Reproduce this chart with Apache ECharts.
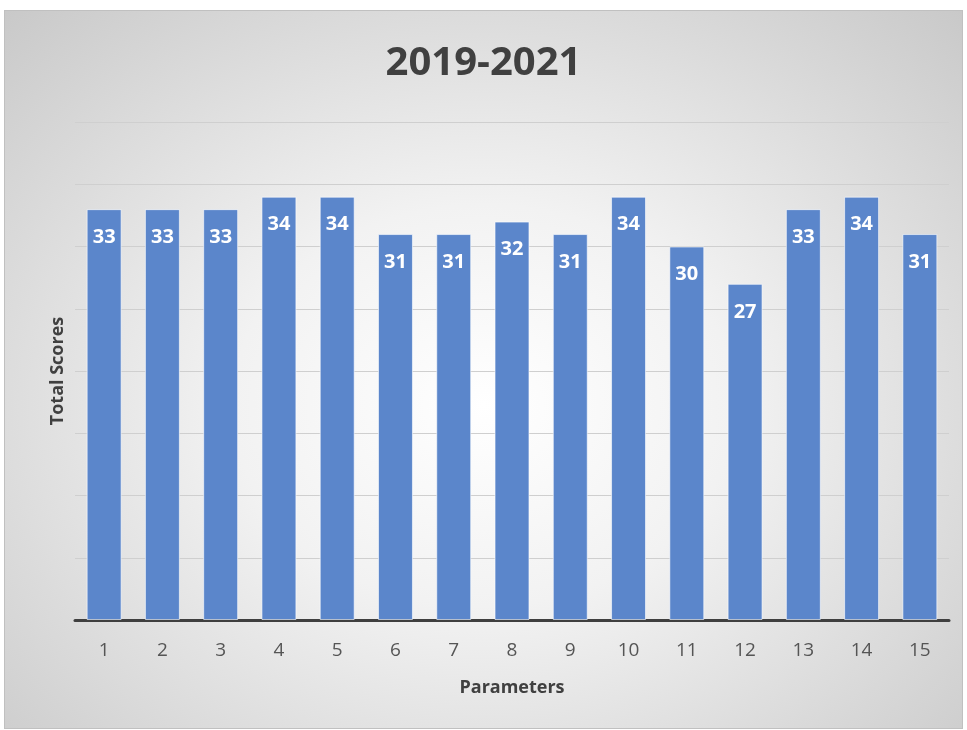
<!DOCTYPE html>
<html>
<head>
<meta charset="utf-8">
<script src="https://cdn.jsdelivr.net/npm/echarts@6/dist/echarts.min.js"></script>
<style>
  html, body { margin: 0; padding: 0; background: #ffffff; }
  .frame {
    position: absolute;
    left: 4px;
    top: 10px;
    width: 957px;
    height: 717px;
    border: 1px solid #c0c0c0;
    background: radial-gradient(ellipse 75% 80% at 50% 55%, #ffffff 0%, #f2f2f2 35%, #c6c6c6 100%);
  }
  #chart {
    position: absolute;
    left: 0;
    top: 0;
    width: 967px;
    height: 730px;
  }
</style>
</head>
<body>
<div class="frame"></div>
<div id="chart"></div>
<script>
// 参数编号
const categories = ["1", "2", "3", "4", "5", "6", "7", "8", "9", "10", "11", "12", "13", "14", "15"];
// 总分
const scores = [33, 33, 33, 34, 34, 31, 31, 32, 31, 34, 30, 27, 33, 34, 31];
// y 轴刻度 (标签不显示)
const yMin = 0;
const yMax = 40;
const yStep = 5;

const font = "'Open Sans', 'Liberation Sans', sans-serif";

let myChart = echarts.init(document.getElementById("chart"));

let option = {
  backgroundColor: "transparent",
  title: {
    text: "2019-2021",
    left: "center",
    top: 39,
    textStyle: {
      color: "#404040",
      fontSize: 40,
      fontWeight: "bold",
      fontFamily: font,
    },
  },
  grid: {
    left: 75,
    right: 18,
    top: 122,
    bottom: 110,
  },
  xAxis: {
    type: "category",
    data: categories,
    name: "Parameters",
    nameLocation: "middle",
    nameGap: 59,
    nameTextStyle: {
      color: "#404040",
      fontSize: 18,
      fontWeight: "bold",
      fontFamily: font,
    },
    axisTick: { show: false },
    axisLine: {
      lineStyle: { color: "#3f3f3f", width: 3 },
    },
    axisLabel: {
      color: "#555555",
      fontSize: 19,
      margin: 21,
      fontFamily: font,
    },
  },
  yAxis: {
    type: "value",
    min: yMin,
    max: yMax,
    interval: yStep,
    name: "Total Scores",
    nameLocation: "middle",
    nameGap: 8,
    nameTextStyle: {
      color: "#404040",
      fontSize: 18,
      fontWeight: "bold",
      fontFamily: font,
    },
    axisLabel: { show: false },
    axisLine: { show: false },
    axisTick: { show: false },
    splitLine: {
      lineStyle: { color: "#cfcfcf", width: 1 },
    },
  },
  series: [
    {
      name: "Total Scores",
      type: "bar",
      data: scores,
      barCategoryGap: "40%",
      itemStyle: {
        color: "#5b86cb",
        borderColor: "rgba(255,255,255,0.6)",
        borderWidth: 1,
      },
      label: {
        show: true,
        position: "insideTop",
        distance: 18,
        color: "#ffffff",
        fontSize: 20,
        fontWeight: "bold",
        fontFamily: font,
      },
    },
  ],
};

myChart.setOption(option, true);
</script>
</body>
</html>
